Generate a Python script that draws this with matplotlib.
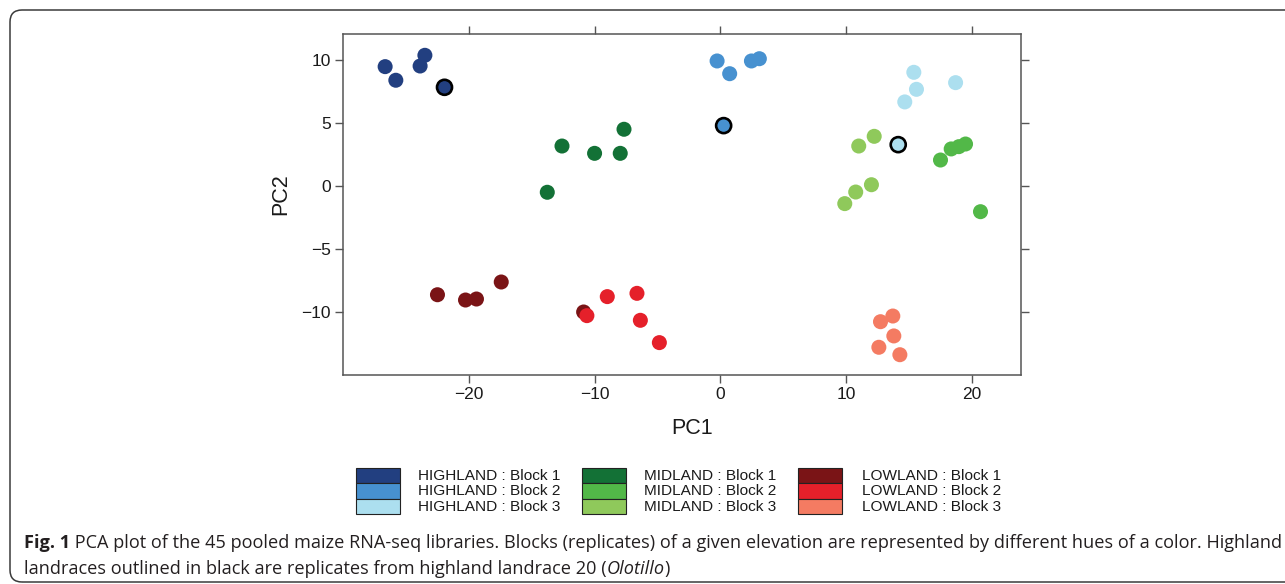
import matplotlib.pyplot as plt
from matplotlib.patches import Rectangle, FancyBboxPatch
from matplotlib.transforms import IdentityTransform

plt.rcParams['font.family'] = ['Liberation Sans', 'DejaVu Sans']

# PCA scores (PC1, PC2), 5 libraries per block
hl1_pc1 = [-26.65, -25.80, -23.87, -23.49, -21.93]
hl1_pc2 = [9.47, 8.39, 9.52, 10.37, 7.83]
hl2_pc1 = [-0.26, 0.74, 2.47, 3.10, 0.26]
hl2_pc2 = [9.92, 8.91, 9.92, 10.10, 4.79]
hl3_pc1 = [15.38, 15.59, 14.66, 18.70, 14.14]
hl3_pc2 = [9.02, 7.67, 6.67, 8.20, 3.28]
ml1_pc1 = [-12.59, -10.00, -7.96, -7.66, -13.76]
ml1_pc2 = [3.17, 2.59, 2.59, 4.50, -0.50]
ml2_pc1 = [17.50, 18.35, 18.96, 19.49, 20.68]
ml2_pc2 = [2.06, 2.94, 3.12, 3.33, -2.04]
ml3_pc1 = [11.00, 12.23, 12.01, 10.76, 9.89]
ml3_pc2 = [3.17, 3.94, 0.10, -0.48, -1.40]
ll1_pc1 = [-22.49, -20.26, -19.39, -17.42, -10.87]
ll1_pc2 = [-8.63, -9.05, -8.97, -7.62, -10.00]
ll2_pc1 = [-10.61, -8.99, -6.63, -6.36, -4.85]
ll2_pc2 = [-10.29, -8.78, -8.52, -10.66, -12.43]
ll3_pc1 = [12.73, 13.71, 13.79, 12.60, 14.27]
ll3_pc2 = [-10.77, -10.32, -11.90, -12.80, -13.39]

# last highland library of each block is landrace 20 (Olotillo)
olotillo = [False, False, False, False, True]
no_outline = [False] * 5

labels = ['HIGHLAND : Block 1', 'HIGHLAND : Block 2', 'HIGHLAND : Block 3',
          'MIDLAND : Block 1', 'MIDLAND : Block 2', 'MIDLAND : Block 3',
          'LOWLAND : Block 1', 'LOWLAND : Block 2', 'LOWLAND : Block 3']
colors = ['#223f80', '#4791d0', '#acdfef',
          '#137136', '#52b848', '#8fc95b',
          '#7a1416', '#e5202a', '#f47b62']

pc1 = [hl1_pc1, hl2_pc1, hl3_pc1, ml1_pc1, ml2_pc1, ml3_pc1, ll1_pc1, ll2_pc1, ll3_pc1]
pc2 = [hl1_pc2, hl2_pc2, hl3_pc2, ml1_pc2, ml2_pc2, ml3_pc2, ll1_pc2, ll2_pc2, ll3_pc2]
outlined = [olotillo] * 3 + [no_outline] * 6

W, H = 1285, 584
fig = plt.figure(figsize=(W / 100, H / 100), dpi=100)


def fx(x):
    return x / W


def fy(y):
    return 1 - y / H


# rounded frame around the whole figure panel
frame = FancyBboxPatch((10, 2), 1300, 572, boxstyle='round,pad=0,rounding_size=12',
                       transform=IdentityTransform(), fc='none', ec='#3a3a3a', lw=1.1)
fig.patches.append(frame)

ax = fig.add_axes([fx(343), fy(375), 678 / W, 341 / H])
for i in range(9):
    lw = [1.9 if o else 0 for o in outlined[i]]
    ec = ['black' if o else 'none' for o in outlined[i]]
    ax.scatter(pc1[i], pc2[i], s=117, c=colors[i], edgecolors=ec, linewidths=lw, zorder=3)

ax.set_xlim(-30.0, 23.9)
ax.set_ylim(-15.0, 12.06)
ax.set_xticks([-20, -10, 0, 10, 20])
ax.set_yticks([-10, -5, 0, 5, 10])
ax.tick_params(direction='out', length=5.8, width=1, color='#555555', labelcolor='#1a1a1a',
               labelsize=12.5, pad=3, top=True, right=True)
for sp in ax.spines.values():
    sp.set_color('#555555')
    sp.set_linewidth(1.1)

ax.set_xlabel('PC1', fontsize=15.5, color='#1a1a1a')
ax.set_ylabel('PC2', fontsize=15.5, color='#1a1a1a')
ax.xaxis.set_label_coords((692 - 343) / 678, (375 - 429) / 341)
ax.yaxis.set_label_coords((281 - 343) / 678, (375 - 194) / 341)
ax.xaxis.label.set_va('center')
ax.yaxis.label.set_va('center')

# legend: three columns of stacked colour boxes
rect_x = [356, 581.5, 797.5]
text_x = [418, 644, 862]
top, rh, rw = 468.3, 15.1, 44.3
for i, (lab, col) in enumerate(zip(labels, colors)):
    c, r = divmod(i, 3)
    y0 = top + r * rh
    fig.patches.append(Rectangle((fx(rect_x[c]), fy(y0 + rh)), rw / W, rh / H,
                                 transform=fig.transFigure, fc=col, ec='#222222', lw=0.8))
    fig.text(fx(text_x[c]), fy(y0 + rh / 2 + 0.5), lab, fontsize=11.1, va='center', color='#1a1a1a')

# caption with mixed bold / italic runs
cap_font = ['Open Sans', 'DejaVu Sans']
line1 = [('Fig. 1', 'bold', 'normal'),
         (' PCA plot of the 45 pooled maize RNA-seq libraries. Blocks (replicates) of a given '
          'elevation are represented by different hues of a color. Highland', 'normal', 'normal')]
line2 = [('landraces outlined in black are replicates from highland landrace 20 (', 'normal', 'normal'),
         ('Olotillo', 'normal', 'italic'),
         (')', 'normal', 'normal')]

renderer = fig.canvas.get_renderer()


def put_runs(parts, x0, base, size):
    x = x0
    for txt, weight, style in parts:
        t = fig.text(fx(x), fy(base), txt, fontsize=size, fontweight=weight, fontstyle=style,
                     family=cap_font, va='baseline', color='#231f20')
        x += t.get_window_extent(renderer).width
    return x - x0


probe = [fig.text(0, 0, p[0], fontsize=10, fontweight=p[1], family=cap_font) for p in line1]
probe_w = sum(t.get_window_extent(renderer).width for t in probe)
for t in probe:
    t.remove()
cap_size = 10 * 1253 / probe_w

put_runs(line1, 24, 548, cap_size)
put_runs(line2, 24, 574, cap_size)

fig.savefig('out.png', dpi=100)
